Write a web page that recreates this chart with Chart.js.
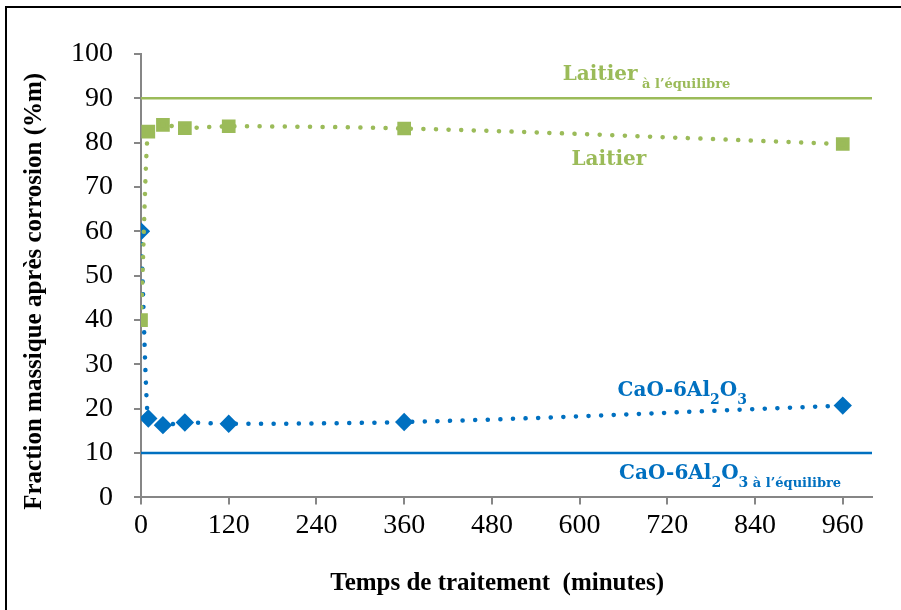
<!DOCTYPE html>
<html>
<head>
<meta charset="utf-8">
<script src="https://cdn.jsdelivr.net/npm/chart.js@4.4.1/dist/chart.umd.min.js"></script>
<style>
  html, body { margin: 0; padding: 0; background: #fff; overflow: hidden; }
  #wrap { position: relative; width: 901px; height: 610px; }
  #frame { position: absolute; left: 5px; top: 6px; width: 1000px; height: 800px; border: 2px solid #000; }
  canvas { position: absolute; left: 0; top: 0; }
</style>
</head>
<body>
<div id="wrap">
  <div id="frame"></div>
  <canvas id="chart" width="901" height="610"></canvas>
</div>
<script>
// temps de traitement (minutes)
var temps = [0, 10, 30, 60, 120, 360, 960];
var laitier = [40, 82.5, 84, 83.3, 83.7, 83.2, 79.7];
var cao6al = [60, 17.8, 16.3, 16.9, 16.6, 17, 20.7];
// valeurs à l'équilibre
var eqTemps = [0, 1000];
var laitierEq = [90, 90];
var caoEq = [10, 10];
var xTicks = [0, 120, 240, 360, 480, 600, 720, 840, 960];

var vert = '#9BBB59';
var bleu = '#0070C0';

function pts(xs, ys) {
    return xs.map(function (x, i) { return { x: x, y: ys[i] }; });
}

// étiquettes: morceaux [texte, style] (0 normal, 1 petit, 2 indice)
var etiquettes = [
    { parts: [['Laitier', 0], [' à l\u2019équilibre', 1]], x: 577, y: 94.1, color: vert },
    { parts: [['Laitier', 0]], x: 589, y: 74.9, color: vert },
    { parts: [['CaO-6Al', 0], ['2', 2], ['O', 0], ['3', 2]], x: 652, y: 22.9, color: bleu },
    { parts: [['CaO-6Al', 0], ['2', 2], ['O', 0], ['3', 2], [' à l\u2019équilibre', 1]], x: 654, y: 4.1, color: bleu }
];

var labelPlugin = {
    id: 'labels',
    afterDatasetsDraw: function (chart) {
        var ctx = chart.ctx;
        var xs = chart.scales.x, ys = chart.scales.y;
        ctx.save();
        ctx.textBaseline = 'alphabetic';
        etiquettes.forEach(function (e) {
            var px = xs.getPixelForValue(e.x);
            var py = ys.getPixelForValue(e.y);
            ctx.fillStyle = e.color;
            e.parts.forEach(function (p) {
                var off = 0;
                if (p[1] === 0) ctx.font = 'bold 20px "DejaVu Serif"';
                else if (p[1] === 1) { ctx.font = 'bold 13px "DejaVu Serif"'; off = 8; }
                else { ctx.font = 'bold 14px "DejaVu Serif"'; off = 8; }
                ctx.fillText(p[0], px, py + off);
                px += ctx.measureText(p[0]).width;
            });
        });
        ctx.restore();
    }
};

var dotted = {
    borderWidth: 4.5,
    borderDash: [0.1, 12.5],
    borderCapStyle: 'round',
    cubicInterpolationMode: 'monotone',
    pointRadius: 6,
    pointHoverRadius: 6
};

new Chart(document.getElementById('chart'), {
    type: 'line',
    data: {
        datasets: [
            Object.assign({
                label: 'Laitier',
                data: pts(temps, laitier),
                borderColor: vert,
                backgroundColor: vert,
                pointStyle: 'rect'
            }, dotted, { pointRadius: 6.5 }),
            Object.assign({
                label: 'CaO-6Al2O3',
                data: pts(temps, cao6al),
                borderColor: bleu,
                backgroundColor: bleu,
                pointStyle: 'rectRot'
            }, dotted),
            {
                label: 'Laitier à l\u2019équilibre',
                data: pts(eqTemps, laitierEq),
                borderColor: vert,
                borderWidth: 2.5,
                pointRadius: 0
            },
            {
                label: 'CaO-6Al2O3 à l\u2019équilibre',
                data: pts(eqTemps, caoEq),
                borderColor: bleu,
                borderWidth: 2.5,
                pointRadius: 0
            }
        ]
    },
    options: {
        responsive: false,
        animation: false,
        layout: { padding: { left: 20, right: 29, top: 54, bottom: 11 } },
        plugins: {
            legend: { display: false },
            tooltip: { enabled: false }
        },
        scales: {
            x: {
                type: 'linear',
                min: 0,
                max: 1000,
                afterBuildTicks: function (axis) {
                    axis.ticks = xTicks.map(function (v) { return { value: v }; });
                },
                ticks: {
                    color: '#000',
                    font: { family: '"Liberation Serif"', size: 28 },
                    padding: 4,
                    maxRotation: 0
                },
                grid: { drawOnChartArea: false, color: '#868686', tickLength: 7, lineWidth: 2 },
                border: { color: '#868686', width: 2 },
                title: {
                    display: true,
                    text: 'Temps de traitement  (minutes)\u00a0\u00a0\u00a0',
                    color: '#000',
                    font: { family: '"Liberation Serif"', size: 25, weight: 'bold' },
                    padding: { top: 23, bottom: 0 }
                }
            },
            y: {
                min: 0,
                max: 100,
                ticks: {
                    stepSize: 10,
                    color: '#000',
                    font: { family: '"Liberation Serif"', size: 28 },
                    padding: 21
                },
                grid: { drawOnChartArea: false, color: '#868686', tickLength: 7, lineWidth: 2 },
                border: { color: '#868686', width: 2 },
                title: {
                    display: true,
                    text: 'Fraction massique après corrosion (%m)\u00a0\u00a0\u00a0\u00a0\u00a0',
                    color: '#000',
                    font: { family: '"Liberation Serif"', size: 25, weight: 'bold' },
                    padding: { top: 0, bottom: 0 }
                }
            }
        }
    },
    plugins: [labelPlugin]
});
</script>
</body>
</html>
